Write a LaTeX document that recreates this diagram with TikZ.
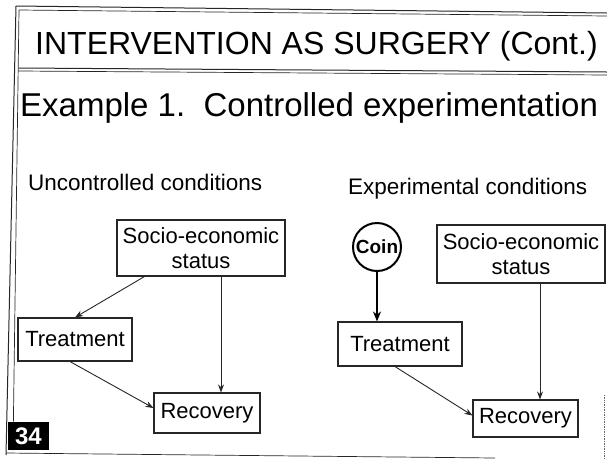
\documentclass[tikz,border=0pt]{standalone}
\usepackage{fontspec}
\setmainfont{Liberation Sans}
\usetikzlibrary{arrows.meta,calc}
\begin{document}
\begin{tikzpicture}[x=1pt,y=-1pt,
  box/.style={draw=black!85,line width=1.1pt,inner sep=0pt,font=\fontsize{22}{25}\selectfont,align=center},
  conn/.style={draw=black!85,line width=0.9pt,-{Stealth[length=8pt,width=6pt]}},
  frame/.style={draw=black!85,line width=1pt},
  lbl/.style={anchor=base west,inner sep=0pt},
]
\useasboundingbox (0,0) rectangle (607,459);
% frame lines
\draw[frame] (16,6) -- (607,13);
\draw[frame,line width=0.7pt] (19,10) -- (607,16);
\draw[frame] (19,68) -- (607,72);
\draw[frame,line width=0.7pt] (19,71) -- (607,75);
\draw[frame] (16,6) -- (6,455);
\draw[frame,line width=0.7pt] (19,10) -- (13,450);
\draw[frame,line width=0.7pt] (6,453) -- (495,458);
\draw[draw=black!60,line width=0.7pt,densely dotted] (604,395) -- (604,459);
% texts
\node[lbl,font=\fontsize{32}{36}\selectfont] (title) at (35,54) {INTERVENTION AS SURGERY (Cont.)};
\node[lbl,font=\fontsize{33}{36}\selectfont] (example) at (20,116) {Example 1.\ \ Controlled experimentation};
\node[lbl,font=\fontsize{22.5}{25}\selectfont] (unc) at (28,190) {Uncontrolled conditions};
\node[lbl,font=\fontsize{22.5}{25}\selectfont] (exc) at (348,194) {Experimental conditions};
% left diagram
\node[box,minimum width=168pt,minimum height=56pt] (lses) at (201,248) {Socio-economic\\status};
\node[box,minimum width=114pt,minimum height=43pt] (ltr) at (75,339.5) {Treatment};
\node[box,minimum width=106pt,minimum height=40pt] (lrec) at (207,413) {Recovery};
\draw[conn] ($(lses.south west)+(28,0)$) -- (ltr.north);
\draw[conn] ($(lses.south)+(20,0)$) coordinate (la) -- (la |- lrec.north);
\draw[conn] ($(ltr.south)+(-5,0)$) -- ($(lrec.west)+(0,-5)$);
% right diagram
\node[circle,draw=black,line width=2pt,minimum size=48pt,inner sep=0pt,font=\bfseries\fontsize{19}{19}\selectfont] (coin) at (377,247) {Coin};
\node[box,minimum width=168pt,minimum height=58pt] (rses) at (521,254) {Socio-economic\\status};
\node[box,minimum width=124pt,minimum height=44pt] (rtr) at (400,344) {Treatment};
\node[box,minimum width=105pt,minimum height=37pt] (rrec) at (525.5,418.5) {Recovery};
\draw[line width=2pt,-{Stealth[length=10pt,width=8pt]}] (coin) -- (coin |- rtr.north);
\draw[conn] ($(rses.south)+(19,0)$) coordinate (ra) -- (ra |- rrec.north);
\draw[conn] ($(rtr.south)+(-5,0)$) -- ($(rrec.west)+(0,-3)$);
% badge
\node[fill=black,minimum width=41pt,minimum height=28pt,inner sep=0pt,text=white,font=\bfseries\fontsize{24}{24}\selectfont] (badge) at (28.5,436) {34};
\end{tikzpicture}
\end{document}
